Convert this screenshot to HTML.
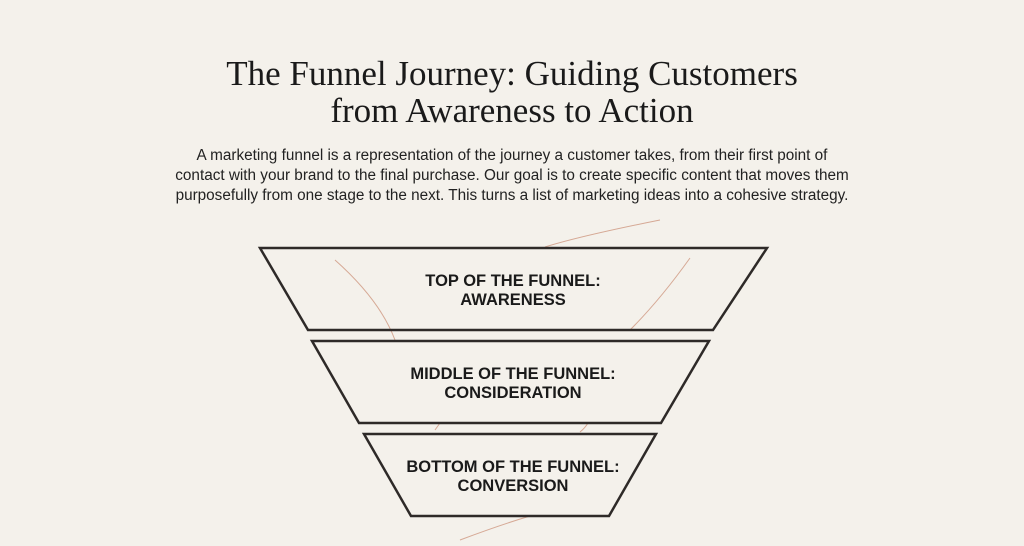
<!DOCTYPE html>
<html><head><style>
html,body{margin:0;padding:0;background:#f4f1eb;width:1024px;height:546px;overflow:hidden}
.t{position:absolute;left:0;width:1024px;text-align:center;font-family:"Liberation Serif",serif;font-size:35px;color:#1a1a1a;line-height:37px;top:55px}
.p{position:absolute;left:0;width:1024px;text-align:center;font-family:"Liberation Sans",sans-serif;font-size:15.3px;color:#222;line-height:20px;top:146px;white-space:nowrap}
svg{position:absolute;left:0;top:0}
</style></head><body>
<div class="t">The Funnel Journey: Guiding Customers<br>from Awareness to Action</div>
<div class="p">A marketing funnel is a representation of the journey a customer takes, from their first point of<br>contact with your brand to the final purchase. Our goal is to create specific content that moves them<br>purposefully from one stage to the next. This turns a list of marketing ideas into a cohesive strategy.</div>
<svg width="1024" height="546">
<g fill="none" stroke="#c98a70" stroke-width="1" opacity="0.7">
<path d="M545 247 Q580 236 660 220"/>
<path d="M335 260 Q380 300 395 340"/>
<path d="M630 330 Q660 300 690 258"/>
<path d="M435 430 L440 423"/>
<path d="M580 432 Q585 428 588 423"/>
<path d="M460 540 Q500 525 530 516"/>
</g>
<g fill="none" stroke="#2e2a28" stroke-width="2.5" stroke-linejoin="miter">
<polygon points="260,248 767,248 713,330 308,330"/>
<polygon points="312,341 709,341 661,423 359,423"/>
<polygon points="364,434 656,434 609,516 411,516"/>
</g>
<g font-family="Liberation Sans, sans-serif" font-weight="bold" font-size="16.5" fill="#1a1a1a" text-anchor="middle">
<text x="513" y="286">TOP OF THE FUNNEL:</text>
<text x="513" y="305">AWARENESS</text>
<text x="513" y="379">MIDDLE OF THE FUNNEL:</text>
<text x="513" y="398">CONSIDERATION</text>
<text x="513" y="472">BOTTOM OF THE FUNNEL:</text>
<text x="513" y="491">CONVERSION</text>
</g>
</svg>
</body></html>
